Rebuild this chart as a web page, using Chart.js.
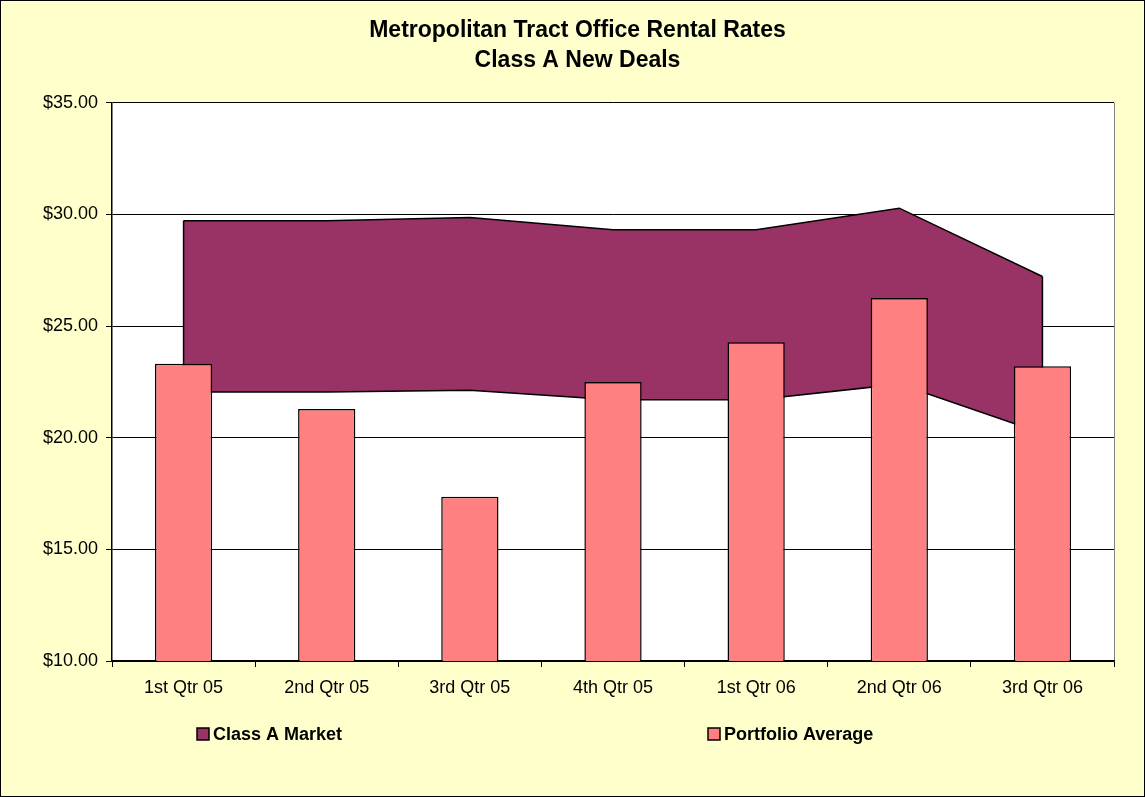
<!DOCTYPE html>
<html>
<head>
<meta charset="utf-8">
<title>Metropolitan Tract Office Rental Rates</title>
<script src="https://cdn.jsdelivr.net/npm/chart.js@4"></script>
<style>
  html, body { margin: 0; padding: 0; background: #ffffcc; }
  canvas { display: block; }
</style>
</head>
<body>
<canvas id="rentChart" width="1145" height="797"></canvas>
<script>
// quarters on the x axis
const quarters = ['1st Qtr 05', '2nd Qtr 05', '3rd Qtr 05', '4th Qtr 05', '1st Qtr 06', '2nd Qtr 06', '3rd Qtr 06'];
// Class A market range (low / high edge of the band)
const marketLow = [22.05, 22.05, 22.13, 21.70, 21.70, 22.40, 20.20];
const marketHigh = [29.72, 29.72, 29.86, 29.31, 29.31, 30.28, 27.22];
// portfolio average bars
const portfolioAvg = [23.31, 21.29, 17.36, 22.49, 24.28, 26.26, 23.20];
const yTicks = [10, 15, 20, 25, 30, 35];

const PURPLE = '#993366';
const SALMON = '#ff8080';
const FONT = 'Liberation Sans, Arial, sans-serif';

// yellow page, white plot, outer frame
const backdrop = {
    id: 'backdrop',
    beforeDraw(chart) {
        const c = chart.ctx, a = chart.chartArea;
        c.save();
        c.fillStyle = '#ffffcc';
        c.fillRect(0, 0, chart.width, chart.height);
        c.fillStyle = '#fff';
        c.fillRect(a.left, a.top, a.right - a.left, a.bottom - a.top);
        c.strokeStyle = '#808080';
        c.lineWidth = 1;
        c.beginPath();
        c.moveTo(a.right + 0.5, a.top);
        c.lineTo(a.right + 0.5, a.bottom);
        c.stroke();
        c.strokeStyle = '#000';
        c.strokeRect(0.5, 0.5, chart.width - 1, chart.height - 1);
        c.restore();
    }
};

// close the band with its vertical ends, like Excel does
const bandEdges = {
    id: 'bandEdges',
    afterDatasetDraw(chart, args) {
        if (args.index !== 1) return;
        const lo = chart.getDatasetMeta(0).data, hi = chart.getDatasetMeta(1).data;
        const c = chart.ctx;
        c.save();
        c.strokeStyle = '#000';
        c.lineWidth = 1.5;
        [0, hi.length - 1].forEach(i => {
            c.beginPath();
            c.moveTo(hi[i].x, hi[i].y);
            c.lineTo(lo[i].x, lo[i].y);
            c.stroke();
        });
        c.restore();
    }
};

// legend spread across the bottom
const wideLegend = {
    id: 'wideLegend',
    afterDraw(chart) {
        const c = chart.ctx;
        const items = [
            { text: 'Class A Market', color: PURPLE, x: 197 },
            { text: 'Portfolio Average', color: SALMON, x: 708 }
        ];
        const y = 734;
        c.save();
        c.font = 'bold 18px ' + FONT;
        c.textBaseline = 'middle';
        items.forEach(it => {
            c.fillStyle = it.color;
            c.fillRect(it.x, y - 6, 12, 12);
            c.strokeStyle = '#000';
            c.lineWidth = 1.5;
            c.strokeRect(it.x, y - 6, 12, 12);
            c.fillStyle = '#000';
            c.fillText(it.text, it.x + 16, y + 1);
        });
        c.restore();
    }
};

const ctx = document.getElementById('rentChart').getContext('2d');
new Chart(ctx, {
    data: {
        labels: quarters,
        datasets: [
            {
                type: 'line',
                label: 'Class A Market low',
                data: marketLow,
                borderColor: '#000',
                borderWidth: 1.5,
                pointRadius: 0,
                tension: 0,
                fill: false,
                order: 1
            },
            {
                type: 'line',
                label: 'Class A Market',
                data: marketHigh,
                borderColor: '#000',
                borderWidth: 1.5,
                backgroundColor: PURPLE,
                pointRadius: 0,
                tension: 0,
                fill: '-1',
                order: 1
            },
            {
                type: 'bar',
                label: 'Portfolio Average',
                data: portfolioAvg,
                backgroundColor: SALMON,
                borderColor: '#000',
                borderWidth: 1.5,
                barPercentage: 0.4,
                categoryPercentage: 1,
                order: 0
            }
        ]
    },
    options: {
        responsive: false,
        animation: false,
        layout: { padding: { left: 10, right: 0, top: 0, bottom: 0 } },
        plugins: {
            legend: { display: false },
            tooltip: { enabled: false },
            title: {
                display: true,
                text: ['Metropolitan Tract Office Rental Rates', 'Class A New Deals'],
                color: '#000',
                font: { family: FONT, size: 23, weight: 'bold', lineHeight: 1.3 },
                padding: { top: 16, bottom: 27 }
            }
        },
        scales: {
            x: {
                offset: true,
                afterFit: s => { s.height = 136; },
                grid: { offset: true, drawOnChartArea: false, color: '#000', tickLength: 6 },
                border: { color: '#000', width: 1.5 },
                ticks: { color: '#000', padding: 10, font: { family: FONT, size: 18 }, maxRotation: 0 }
            },
            y: {
                min: 10,
                max: 35,
                afterFit: s => { s.width = 102; },
                afterBuildTicks: s => { s.ticks = yTicks.map(v => ({ value: v })); },
                grid: { color: '#000', tickLength: 6 },
                border: { color: '#000', width: 1.5 },
                ticks: {
                    color: '#000',
                    padding: 8,
                    font: { family: FONT, size: 18 },
                    callback: v => '$' + Number(v).toFixed(2)
                }
            },
            // empty right-hand axis only reserves the gap after the plot
            gap: {
                position: 'right',
                afterFit: s => { s.width = 31; },
                grid: { display: false },
                border: { display: false },
                ticks: { display: false }
            }
        }
    },
    plugins: [backdrop, bandEdges, wideLegend]
});
</script>
</body>
</html>
